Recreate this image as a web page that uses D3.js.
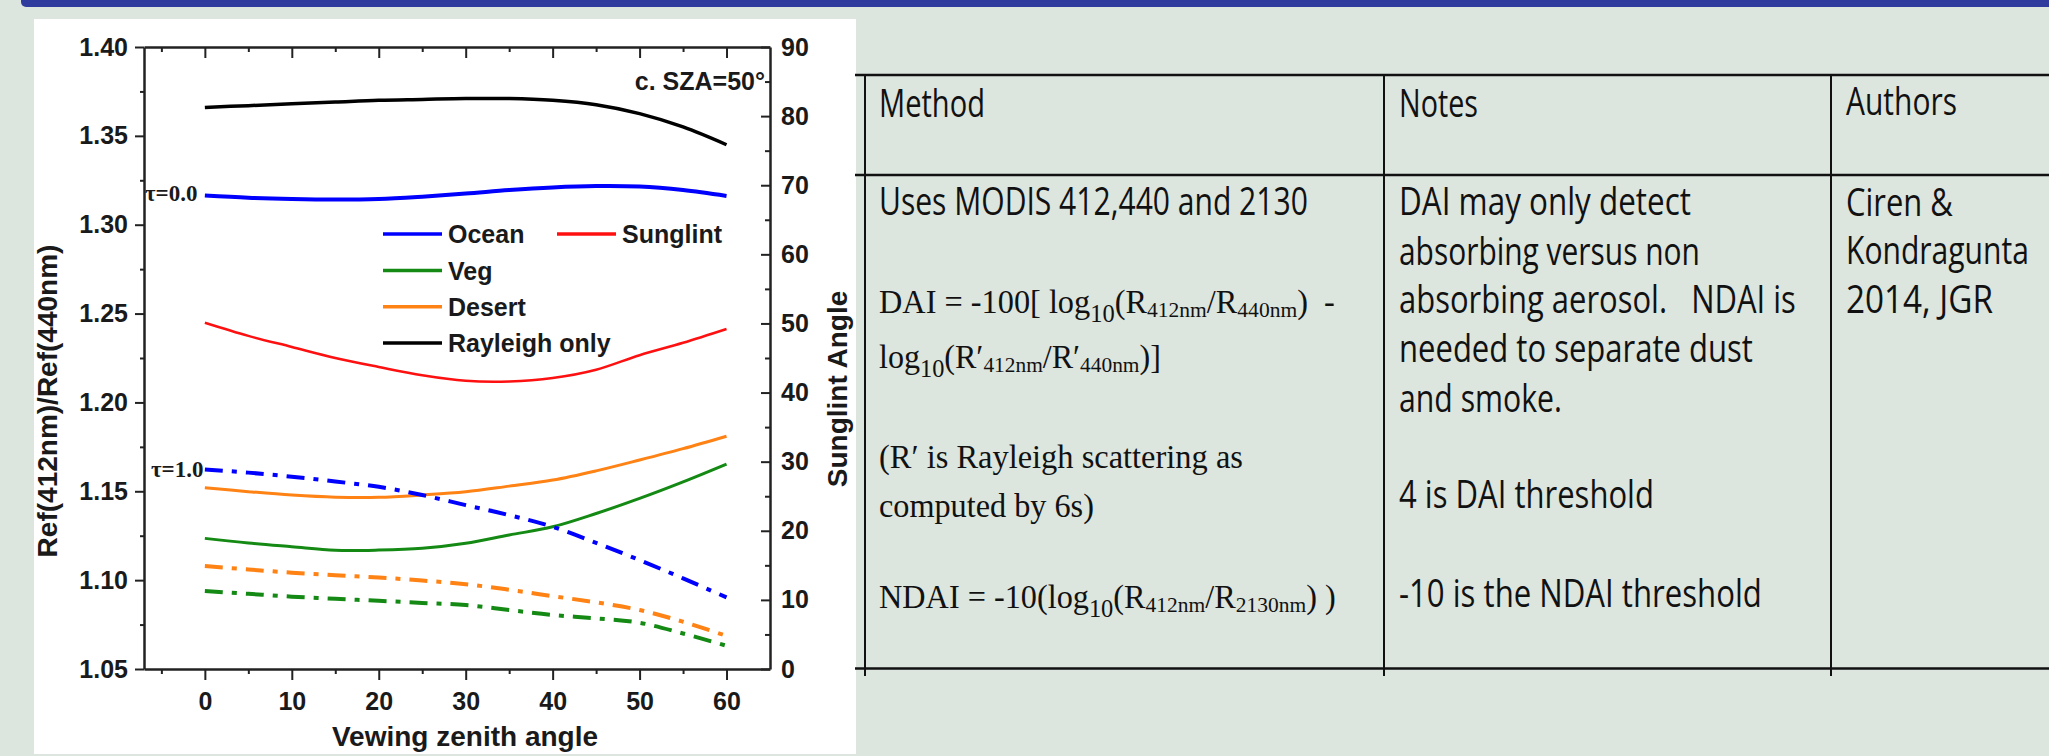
<!DOCTYPE html>
<html lang="en">
<head>
<meta charset="utf-8">
<title>DAI / NDAI dust detection</title>
<script src="https://cdnjs.cloudflare.com/ajax/libs/d3/7.8.5/d3.min.js"></script>
<style>
body { margin: 0; background: #dce5de; }
svg { display: block; }
.chart text { font-family: "Liberation Sans", Arial, sans-serif; font-weight: bold; fill: #1a1a1a; }
.chart .tick text { font-size: 25px; }
.axis path, .axis line { stroke: #222; }
.axis path { stroke-width: 2.5; }
.axis line { stroke-width: 2; }
.tbl text { fill: #111; white-space: pre; }
.tbl .sans { font-family: "Open Sans", sans-serif; font-size: 38px; }
.tbl .serif { font-family: "Liberation Serif", "Times New Roman", serif; font-size: 33px; }
</style>
</head>
<body>
<script>
// viewing zenith angle (deg)
var vza = [0, 5, 10, 15, 20, 25, 30, 35, 40, 45, 50, 55, 60];

// tau = 0.0
var rayleighOnly = [1.366, 1.367, 1.368, 1.369, 1.370, 1.3705, 1.371, 1.371, 1.370, 1.3675, 1.3625, 1.355, 1.345];
var oceanClear = [1.3164, 1.3152, 1.3145, 1.3142, 1.3145, 1.3158, 1.3175, 1.3195, 1.3210, 1.3218, 1.3215, 1.3195, 1.3162];
// sunglint angle, right axis (deg)
var sunglintAngle = [50.1, 48.2, 46.6, 45.0, 43.7, 42.5, 41.7, 41.6, 42.1, 43.3, 45.4, 47.2, 49.2];

// tau = 1.0
var desertSolid = [1.152, 1.1498, 1.1479, 1.1467, 1.1466, 1.1479, 1.1497, 1.1529, 1.1563, 1.1615, 1.1676, 1.174, 1.181];
var vegSolid = [1.1235, 1.1209, 1.1188, 1.1168, 1.1169, 1.1179, 1.1207, 1.1254, 1.130, 1.1375, 1.146, 1.1553, 1.1653];
var oceanDash = [1.1623, 1.1605, 1.1582, 1.1555, 1.1525, 1.1479, 1.1422, 1.1366, 1.130, 1.121, 1.1113, 1.101, 1.0903];
var desertDash = [1.1079, 1.106, 1.1042, 1.1028, 1.1015, 1.0998, 1.0977, 1.0946, 1.091, 1.0875, 1.0832, 1.0766, 1.0686];
var vegDash = [1.0939, 1.0923, 1.0907, 1.0895, 1.0884, 1.0872, 1.086, 1.0832, 1.0804, 1.0785, 1.076, 1.070, 1.0631];

var leftTicks = [1.05, 1.10, 1.15, 1.20, 1.25, 1.30, 1.35, 1.40];
var rightTicks = [0, 10, 20, 30, 40, 50, 60, 70, 80, 90];
var xTicks = [0, 10, 20, 30, 40, 50, 60];

var legendNames = ["Ocean", "Sunglint", "Veg", "Desert", "Rayleigh only"];

// table text
var tableHeader = ["Method", "Notes", "Authors"];
var methodLines = [
  [{t: "Uses MODIS 412,440 and 2130"}],
  [{t: "DAI = -100[ log"}, {t: "10", s: 1}, {t: "(R"}, {t: "412nm", s: 2}, {t: "/R"}, {t: "440nm", s: 2}, {t: ")  -"}],
  [{t: "log"}, {t: "10", s: 1}, {t: "(R\u2032"}, {t: "412nm", s: 2}, {t: "/R\u2032"}, {t: "440nm", s: 2}, {t: ")]"}],
  [{t: "(R\u2032 is Rayleigh scattering as"}],
  [{t: "computed by 6s)"}],
  [{t: "NDAI = -10(log"}, {t: "10", s: 1}, {t: "(R"}, {t: "412nm", s: 2}, {t: "/R"}, {t: "2130nm", s: 2}, {t: ") )"}]
];
var noteLines = ["DAI may only detect", "absorbing versus non", "absorbing aerosol.   NDAI is",
  "needed to separate dust", "and smoke.", "4 is DAI threshold", "-10 is the NDAI threshold"];
var authorLines = ["Ciren &", "Kondragunta", "2014, JGR"];

var W = 2049, H = 756;
var svg = d3.select("body").append("svg").attr("width", W).attr("height", H);

svg.append("rect").attr("width", W).attr("height", H).attr("fill", "#dce5de");
svg.append("rect").attr("x", 21).attr("y", -8).attr("width", W).attr("height", 15)
  .attr("rx", 5).attr("fill", "#2f3c9e");

// ---------------- chart ----------------
var chart = svg.append("g").attr("class", "chart");
chart.append("rect").attr("x", 34).attr("y", 19).attr("width", 822).attr("height", 735).attr("fill", "#fff");

var x = d3.scaleLinear().domain([-7, 65]).range([144, 770]);
var yL = d3.scaleLinear().domain([1.05, 1.40]).range([669, 47]);
var yR = d3.scaleLinear().domain([0, 90]).range([669, 47]);

function minorOf(major, step) {
  var out = [];
  major.forEach(function(d) { out.push(d + step); });
  return out;
}

// left axis
chart.append("g").attr("class", "axis").attr("transform", "translate(144,0)")
  .call(d3.axisLeft(yL).tickValues(leftTicks).tickFormat(d3.format(".2f"))
    .tickSize(9).tickPadding(7).tickSizeOuter(0));
chart.append("g").attr("class", "axis minor").attr("transform", "translate(144,0)")
  .call(d3.axisLeft(yL).tickValues(minorOf(leftTicks.slice(0, -1), 0.025)).tickFormat("").tickSize(4));

// right axis
chart.append("g").attr("class", "axis").attr("transform", "translate(770,0)")
  .call(d3.axisRight(yR).tickValues(rightTicks).tickSize(-9).tickPadding(11).tickSizeOuter(0));
chart.append("g").attr("class", "axis minor").attr("transform", "translate(770,0)")
  .call(d3.axisRight(yR).tickValues(minorOf(rightTicks.slice(0, -1), 5)).tickFormat("").tickSize(-5));

// bottom axis
chart.append("g").attr("class", "axis").attr("transform", "translate(0,669)")
  .call(d3.axisBottom(x).tickValues(xTicks).tickSize(11).tickPadding(12).tickSizeOuter(0));
chart.append("g").attr("class", "axis minor").attr("transform", "translate(0,669)")
  .call(d3.axisBottom(x).tickValues(minorOf([-10].concat(xTicks.slice(0, -1)), 5)).tickFormat("").tickSize(5));

// top axis
chart.append("g").attr("class", "axis").attr("transform", "translate(0,47)")
  .call(d3.axisTop(x).tickValues(xTicks).tickFormat("").tickSize(-11).tickSizeOuter(0));
chart.append("g").attr("class", "axis minor").attr("transform", "translate(0,47)")
  .call(d3.axisTop(x).tickValues(minorOf([-10].concat(xTicks.slice(0, -1)), 5)).tickFormat("").tickSize(-5));

chart.selectAll(".minor path").remove();

// axis titles
chart.append("text").attr("transform", "translate(57,401) rotate(-90)")
  .attr("text-anchor", "middle").attr("font-size", 28).text("Ref(412nm)/Ref(440nm)");
chart.append("text").attr("transform", "translate(847,389) rotate(-90)")
  .attr("text-anchor", "middle").attr("font-size", 28).text("Sunglint Angle");
chart.append("text").attr("x", 465).attr("y", 746)
  .attr("text-anchor", "middle").attr("font-size", 28).text("Vewing zenith angle");

chart.append("text").attr("x", 765).attr("y", 90).attr("text-anchor", "end")
  .attr("font-size", 25).text("c. SZA=50\u00b0");
chart.append("text").attr("x", 145).attr("y", 201).attr("font-size", 23)
  .style("font-family", "'Liberation Serif', serif").text("\u03c4=0.0");
chart.append("text").attr("x", 151).attr("y", 477).attr("font-size", 23)
  .style("font-family", "'Liberation Serif', serif").text("\u03c4=1.0");

// curves
var series = [
  {vals: rayleighOnly, y: yL, color: "#000", w: 3.5, dash: null},
  {vals: oceanClear, y: yL, color: "#0000ff", w: 4, dash: null},
  {vals: sunglintAngle, y: yR, color: "#ff1010", w: 2.5, dash: null},
  {vals: desertSolid, y: yL, color: "#ff8214", w: 3, dash: null},
  {vals: vegSolid, y: yL, color: "#148a14", w: 3, dash: null},
  {vals: oceanDash, y: yL, color: "#0000ff", w: 4, dash: "18,9,5,9"},
  {vals: desertDash, y: yL, color: "#ff8214", w: 4, dash: "18,9,5,9"},
  {vals: vegDash, y: yL, color: "#148a14", w: 4, dash: "18,9,5,9"}
];

chart.selectAll("path.curve").data(series).enter().append("path")
  .attr("class", "curve")
  .attr("fill", "none")
  .attr("stroke", function(d) { return d.color; })
  .attr("stroke-width", function(d) { return d.w; })
  .attr("stroke-dasharray", function(d) { return d.dash; })
  .attr("d", function(s) {
    return d3.line()
      .x(function(d, i) { return x(vza[i]); })
      .y(function(d) { return s.y(d); })
      .curve(d3.curveCatmullRom)(s.vals);
  });

// legend
var legendColors = ["#0000ff", "#ff1010", "#148a14", "#ff8214", "#000"];
var legendPos = [[383, 234], [557, 234], [383, 270.5], [383, 306.7], [383, 343]];
var leg = chart.selectAll("g.leg").data(legendNames).enter().append("g")
  .attr("class", "leg")
  .attr("transform", function(d, i) { return "translate(" + legendPos[i] + ")"; });
leg.append("line").attr("x1", 0).attr("x2", 59)
  .attr("stroke", function(d, i) { return legendColors[i]; }).attr("stroke-width", 3.5);
leg.append("text").attr("x", 65).attr("y", 9).attr("font-size", 25).text(function(d) { return d; });

// ---------------- table ----------------
var tbl = svg.append("g").attr("class", "tbl");
var colX = [865, 1384, 1831];
[75, 175, 668.5].forEach(function(yy) {
  tbl.append("line").attr("x1", 855).attr("x2", W).attr("y1", yy).attr("y2", yy)
    .attr("stroke", "#111").attr("stroke-width", 2.5);
});
colX.forEach(function(xx) {
  tbl.append("line").attr("x1", xx).attr("x2", xx).attr("y1", 75).attr("y2", 676)
    .attr("stroke", "#111").attr("stroke-width", 2);
});

function fitText(sel, x0, y0, width) {
  var w = sel.node().getBBox().width;
  sel.attr("transform", "translate(" + x0 + "," + y0 + ") scale(" + (width / w) + ",1)");
}

function plain(cls, str, x0, y0, width) {
  var t = tbl.append("text").attr("class", cls).text(str);
  fitText(t, x0, y0, width);
}

// header
var headLayout = [[879, 116.7, 106], [1399, 116.7, 79], [1846, 115, 111]];
tableHeader.forEach(function(s, i) { plain("sans", s, headLayout[i][0], headLayout[i][1], headLayout[i][2]); });

// method column
var methodLayout = [[215, 429, "sans"], [313.3, 456, "serif"], [368.3, 282, "serif"],
  [468.3, 364, "serif"], [516.7, 215, "serif"], [608.3, 457, "serif"]];
methodLines.forEach(function(parts, i) {
  var t = tbl.append("text").attr("class", methodLayout[i][2]);
  var shift = 0;
  parts.forEach(function(p) {
    var target = p.s === 1 ? 9 : (p.s === 2 ? 4 : 0);
    t.append("tspan")
      .attr("dy", target - shift)
      .attr("font-size", p.s === 1 ? 25 : (p.s === 2 ? 22 : null))
      .text(p.t);
    shift = target;
  });
  fitText(t, 879, methodLayout[i][0], methodLayout[i][1]);
});

// notes column
var noteLayout = [[215, 292], [265, 301], [313.3, 397], [361.7, 354], [411.7, 163], [508.3, 255], [606.7, 363]];
noteLines.forEach(function(s, i) { plain("sans", s, 1399, noteLayout[i][0], noteLayout[i][1]); });

// authors column
var authorLayout = [[216, 107], [264, 183], [313, 147]];
authorLines.forEach(function(s, i) { plain("sans", s, 1846, authorLayout[i][0], authorLayout[i][1]); });
</script>
</body>
</html>
